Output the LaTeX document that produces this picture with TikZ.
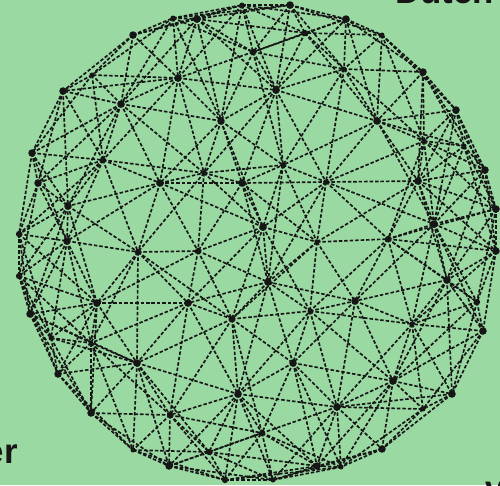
\documentclass[tikz,border=0pt]{standalone}
\usepackage{fontspec}
\setmainfont{Liberation Sans}
\definecolor{bg}{HTML}{9BD9A3}
\definecolor{ink}{HTML}{161616}
\def\pts{133/35/L,173/18/S,197/19/L,242/5/S,290/5/L,346/19/L,382/35/S,423/72/L,456/110/L,253/52/M,305/33/M,178/78/L,276/90/L,344/69/S,121/104/L,221/121/L,377/121/L,92/75/S,63/91/L,32/153/L,103/160/M,38/183/L,160/183/L,204/173/S,242/183/L,68/206/L,19/234/M,67/241/L,138/252/M,198/251/M,19/276/M,424/141/S,464/146/S,283/165/S,326/182/S,418/181/L,485/170/L,496/209/L,263/227/L,317/242/S,388/239/M,434/224/L,496/251/L,268/282/L,447/280/L,30/314/L,97/303/L,188/303/L,232/319/M,51/338/S,91/343/S,137/363/L,58/374/L,238/394/L,91/413/L,170/415/M,133/450/S,209/452/M,169/466/L,225/480/M,310/311/S,355/301/L,477/302/M,483/331/L,412/324/S,293/363/L,393/381/L,452/394/L,337/407/L,423/409/S,262/433/M,382/449/L,317/466/L,341/467/S,273/480/S}
\def\RR{13924}
\def\dd#1#2{\numexpr(\csname X#1\endcsname-\csname X#2\endcsname)*(\csname X#1\endcsname-\csname X#2\endcsname)+(\csname Y#1\endcsname-\csname Y#2\endcsname)*(\csname Y#1\endcsname-\csname Y#2\endcsname)\relax}
\begin{document}
\begin{tikzpicture}[x=0.02cm,y=-0.02cm,
  edge/.style={draw=ink,line width=0.95pt,dash pattern=on 2pt off 1.1pt},
  dotL/.style={circle,fill=ink,inner sep=0pt,minimum size=0.15cm},
  dotM/.style={circle,fill=ink,inner sep=0pt,minimum size=0.125cm},
  dotS/.style={circle,fill=ink,inner sep=0pt,minimum size=0.1cm},
  lbl/.style={font=\bfseries\fontsize{19.8pt}{20pt}\selectfont,text=ink,inner sep=0pt}]
\fill[bg] (0,0) rectangle (500,485);
\useasboundingbox (0,0) rectangle (500,485);
% store points
\foreach \x/\y/\s [count=\i] in \pts {%
  \expandafter\xdef\csname X\i\endcsname{\x}%
  \expandafter\xdef\csname Y\i\endcsname{\y}%
  \expandafter\xdef\csname S\i\endcsname{\s}%
  \xdef\N{\i}%
  \coordinate (n\i) at (\x,\y);%
}
% edges: every pair closer than the threshold
\foreach \i in {1,...,\N}{%
  \foreach \j in {1,...,\N}{%
    \ifnum\j>\i\relax
      \ifnum\dd{\i}{\j}<\RR\relax
        \draw[edge] (n\i) -- (n\j);
      \fi
    \fi
  }%
}
% dots
\foreach \i in {1,...,\N}{%
  \node[dot\csname S\i\endcsname] (d\i) at (n\i) {};
}
\node[lbl,anchor=base west] (t1) at (395,3) {Dutch};
\node[lbl,anchor=base east] (t2) at (18,463) {er};
\node[lbl,anchor=base west] (t3) at (485,500) {v};
\end{tikzpicture}
\end{document}
